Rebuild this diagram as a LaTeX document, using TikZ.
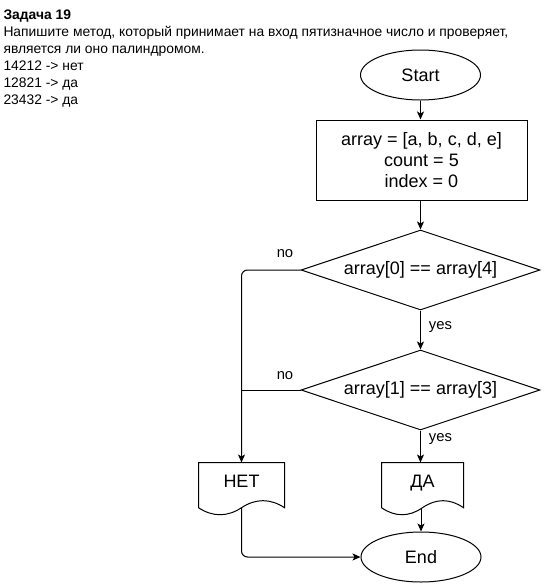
\documentclass[tikz,border=0pt]{standalone}
\usepackage{fontspec}
\setmainfont{Liberation Sans}
\usetikzlibrary{shapes.geometric,arrows.meta,calc}
\newcommand\flowdocshape[2]{% #1 node name, #2 dy
  \draw (#1.north west) -- (#1.north east) -- (#1.south east)
    .. controls ($(#1.south east)+(-\docw/6,-0.6*#2)$) and ($(#1.south)+(\docw/6,-0.6*#2)$) .. (#1.south)
    .. controls ($(#1.south)+(-\docw/6,0.6*#2)$) and ($(#1.south west)+(\docw/6,0.6*#2)$) .. (#1.south west)
    -- cycle;}
\begin{document}
\begin{tikzpicture}[x=1pt,y=-1pt,
  line width=1pt,
  arr/.style={-{Stealth[length=8pt,width=7pt,inset=2pt]}},
  bigtxt/.style={font=\fontsize{18}{21}\selectfont},
  smalltxt/.style={font=\fontsize{13.85}{17}\selectfont},
  term/.style={ellipse,draw,minimum width=120pt,minimum height=50pt,inner sep=0pt,bigtxt},
  proc/.style={rectangle,draw,minimum width=211pt,minimum height=80pt,align=center,bigtxt},
  dec/.style={diamond,draw,aspect=3,minimum width=239pt,minimum height=80pt,inner sep=0pt,bigtxt},
  docnode/.style={rectangle,inner sep=0pt,minimum height=44.2pt,text height=13pt,text depth=8pt,bigtxt},
  lbl/.style={font=\fontsize{14.8}{17}\selectfont,inner sep=0pt,text height=7.5pt,text depth=0pt},
  head/.style={smalltxt,anchor=base west,inner sep=0pt}]
\useasboundingbox (0,0) rectangle (551,584);

% heading text
\node[head,font=\fontsize{13.85}{17}\selectfont\bfseries] (t1) at (3,19) {Задача 19};
\node[head] (t2) at (3,36) {Напишите метод, который принимает на вход пятизначное число и проверяет,};
\node[head] (t3) at (3,53) {является ли оно палиндромом.};
\node[head] (t4) at (3,70) {14212 -> нет};
\node[head] (t5) at (3,87) {12821 -> да};
\node[head] (t6) at (3,104) {23432 -> да};

% flowchart
\node[term] (start) at (420.5,75) {Start};
\node[proc] (init) at (421.5,160) {array = [a, b, c, d, e]\\count = 5\\index = 0};
\node[dec] (d1) at (420.5,270) {array[0] == array[4]};
\node[dec] (d2) at (420.5,390) {array[1] == array[3]};
\def\docw{85}
\node[docnode,minimum width=85pt] (net) at (241.5,485.1) {НЕТ};
\flowdocshape{net}{15.6}
\def\docw{81}
\node[docnode,minimum width=81pt] (da) at (422.5,485.1) {ДА};
\flowdocshape{da}{15.6}
\node[term] (end) at (421,557) {End};

% connectors
\draw[arr] (start.south) -- (start.south |- init.north);
\draw[arr] (init.south -| d1.north) -- (d1.north);
\draw[arr] (d1.south) -- (d2.north);
\draw[arr] (d2.south) -- (d2.south |- da.north);
\draw[arr] (da.south -| end.north) -- (end.north);
\draw[arr,rounded corners=6pt] (d1.west) -| (net.north);
\draw (d2.west) -- (d2.west -| net.north);
\draw[arr,rounded corners=6pt] (net.south) |- (end.west);

% labels
\node[lbl] (no1) at (285,254) {no};
\node[lbl] (no2) at (285,376) {no};
\node[lbl] (yes1) at (440.5,326) {yes};
\node[lbl] (yes2) at (440.5,438) {yes};
\end{tikzpicture}
\end{document}
